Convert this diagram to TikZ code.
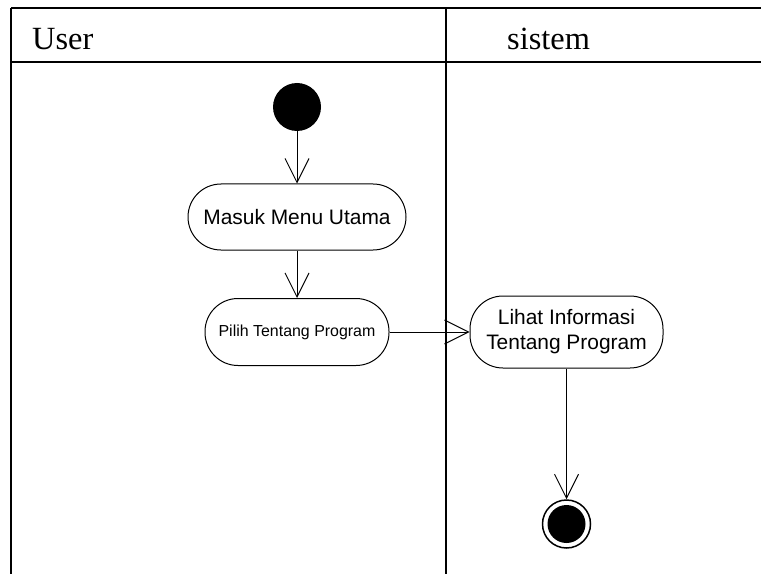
\documentclass[tikz,border=0pt]{standalone}
\usepackage{fontspec}
\setmainfont{Liberation Serif}
\newfontfamily\arialfont{Liberation Sans}
\usetikzlibrary{arrows.meta}
\begin{document}
\begin{tikzpicture}[x=1bp,y=-1bp,
  lane/.style={line width=2bp},
  lanetitle/.style={anchor=base west, font=\fontsize{32.5}{36}\selectfont, inner sep=0pt},
  action/.style={draw, line width=1bp, rounded corners=33bp, align=center,
    inner sep=0pt, font=\arialfont\fontsize{21}{25}\selectfont},
  smallaction/.style={action, font=\arialfont\fontsize{16}{19}\selectfont},
  initial/.style={circle, fill=black, minimum size=48bp, inner sep=0pt},
  final/.style={circle, draw, line width=1.5bp, minimum size=48bp, inner sep=0pt},
  finaldot/.style={circle, fill=black, minimum size=38bp, inner sep=0pt},
  flow/.style={line width=1bp, -{Straight Barb[length=24bp,width=24bp,line width=1bp]}}]
\useasboundingbox (0,0) rectangle (761,574);

% swimlane frame
\draw[lane] (11,8) -- (761,8);
\draw[lane] (11,62) -- (761,62);
\draw[lane] (11,8) -- (11,574);
\draw[lane] (446,8) -- (446,574);
\node[lanetitle] (user) at (32,50) {User};
\node[lanetitle] (sistem) at (507,50) {sistem};

% activities
\node[initial] (start) at (297,107) {};
\node[action, minimum width=218bp, minimum height=66bp] (masuk) at (297,217) {Masuk Menu Utama};
\node[smallaction, minimum width=184bp, minimum height=67bp] (pilih) at (297,332) {Pilih Tentang Program};
\node[action, minimum width=193bp, minimum height=72bp] (lihat) at (566.5,332) {Lihat Informasi\\Tentang Program};
\node[final] (end) at (566.5,524) {};
\node[finaldot] (enddot) at (end) {};

% control flow
\draw[flow] (start) -- (masuk);
\draw[flow] (masuk) -- (pilih);
\draw[flow] (pilih) -- (lihat);
\draw[flow] (lihat) -- (end);
\end{tikzpicture}
\end{document}
